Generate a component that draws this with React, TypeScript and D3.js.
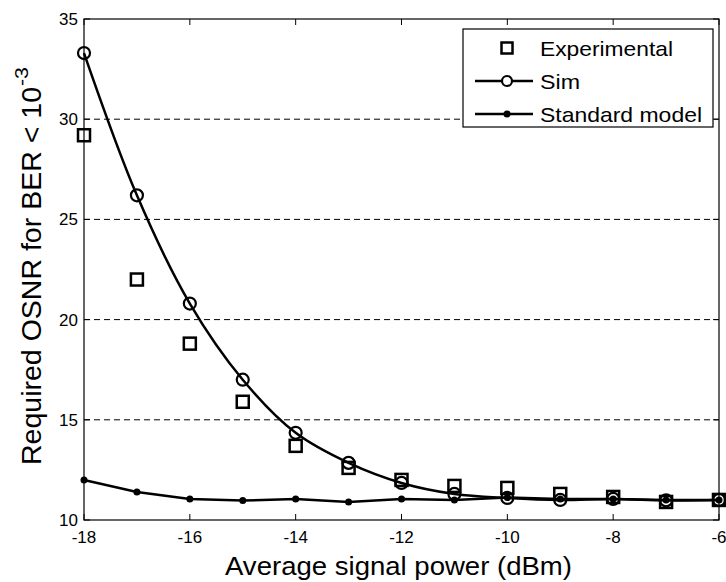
import React from "react";
import * as d3 from "d3";

const xValues = [-18, -17, -16, -15, -14, -13, -12, -11, -10, -9, -8, -7, -6];
const experimental = [29.2, 22.0, 18.8, 15.9, 13.7, 12.6, 12.0, 11.7, 11.6, 11.3, 11.15, 10.9, 11.0];
const sim = [33.3, 26.2, 20.8, 17.0, 14.35, 12.85, 11.85, 11.3, 11.1, 11.0, 11.05, 10.98, 11.0];
const standardModel = [12.0, 11.4, 11.05, 10.97, 11.05, 10.9, 11.05, 11.0, 11.12, 11.05, 11.05, 11.0, 11.0];
const xTicks = [-18, -16, -14, -12, -10, -8, -6];
const yTicks = [10, 15, 20, 25, 30, 35];
const gridValues = [15, 20, 25, 30];
const legendLabels = ["Experimental", "Sim", "Standard model"];
const legendWidths = [133, 40, 162];

const W = 726, H = 582;
const L = 84, R = 719, T = 19, B = 520;

export default function App() {
  const x = d3.scaleLinear().domain([-18, -6]).range([L, R]);
  const y = d3.scaleLinear().domain([10, 35]).range([B, T]);
  const simLine = d3.line<number>().x((_, i) => x(xValues[i])).y((d) => y(d)).curve(d3.curveCatmullRom.alpha(0.5));
  const stdLine = d3.line<number>().x((_, i) => x(xValues[i])).y((d) => y(d));
  const font = "Arial, 'Liberation Sans', sans-serif";
  const lgX = 463, lgY = 29, lgW = 250, lgH = 98;
  const rowY = [48, 81, 114];
  return (
    <svg width={W} height={H} style={{ position: "absolute", left: 0, top: 0, background: "#fff" }} fontFamily={font}>
      <rect x={0} y={0} width={W} height={H} fill="#fff" />
      {gridValues.map((v) => (
        <line key={v} x1={L} x2={R} y1={y(v)} y2={y(v)} stroke="#000" strokeWidth={1} strokeDasharray="6,4" />
      ))}
      {xTicks.map((t) => (
        <g key={t}>
          <line x1={x(t)} x2={x(t)} y1={B} y2={B - 6} stroke="#000" />
          <line x1={x(t)} x2={x(t)} y1={T} y2={T + 6} stroke="#000" />
          <text x={x(t)} y={B + 23} fontSize={17} textAnchor="middle">{t}</text>
        </g>
      ))}
      {yTicks.map((t) => (
        <g key={t}>
          <line x1={L} x2={L + 6} y1={y(t)} y2={y(t)} stroke="#000" />
          <line x1={R} x2={R - 6} y1={y(t)} y2={y(t)} stroke="#000" />
          <text x={L - 6} y={y(t) + 6} fontSize={17} textAnchor="end">{t}</text>
        </g>
      ))}
      <path d={stdLine(standardModel) || ""} fill="none" stroke="#000" strokeWidth={2.5} />
      {standardModel.map((v, i) => (
        <circle key={"s" + i} cx={x(xValues[i])} cy={y(v)} r={3.5} fill="#000" />
      ))}
      <path d={simLine(sim) || ""} fill="none" stroke="#000" strokeWidth={2.5} />
      {sim.map((v, i) => (
        <circle key={"c" + i} cx={x(xValues[i])} cy={y(v)} r={6} fill="none" stroke="#000" strokeWidth={2.2} />
      ))}
      {experimental.map((v, i) => (
        <rect key={"e" + i} x={x(xValues[i]) - 6} y={y(v) - 6} width={12} height={12} fill="none" stroke="#000" strokeWidth={2.5} />
      ))}
      <rect x={L} y={T} width={R - L} height={B - T} fill="none" stroke="#000" strokeWidth={1.2} />
      <g>
        <rect x={lgX} y={lgY} width={lgW} height={lgH} fill="#fff" stroke="#000" strokeWidth={1.2} />
        <rect x={507 - 5.5} y={rowY[0] - 5.5} width={11} height={11} fill="none" stroke="#000" strokeWidth={2.5} />
        <line x1={475} x2={533} y1={rowY[1]} y2={rowY[1]} stroke="#000" strokeWidth={2.5} />
        <circle cx={507} cy={rowY[1]} r={5} fill="#fff" stroke="#000" strokeWidth={2.2} />
        <line x1={475} x2={533} y1={rowY[2]} y2={rowY[2]} stroke="#000" strokeWidth={2.5} />
        <circle cx={507} cy={rowY[2]} r={3.5} fill="#000" />
        {legendLabels.map((l, i) => (
          <text key={l} x={540} y={rowY[i] + 7.5} fontSize={21} textLength={legendWidths[i]} lengthAdjust="spacingAndGlyphs">{l}</text>
        ))}
      </g>
      <text x={225} y={575} fontSize={26} textLength={347} lengthAdjust="spacingAndGlyphs">Average signal power (dBm)</text>
      <g transform="translate(41, 465) rotate(-90)">
        <text x={0} y={0} fontSize={27} textLength={378} lengthAdjust="spacingAndGlyphs">Required OSNR for BER &lt; 10</text>
        <text x={379} y={-13} fontSize={18} textLength={19} lengthAdjust="spacingAndGlyphs">-3</text>
      </g>
    </svg>
  );
}
